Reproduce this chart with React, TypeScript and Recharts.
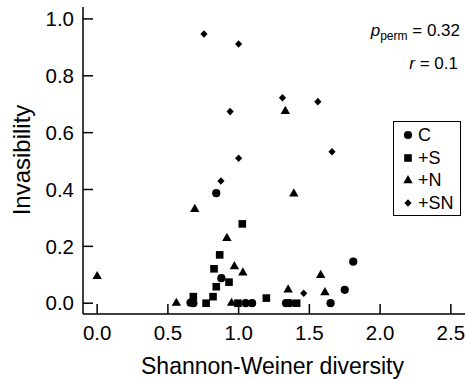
import React from 'react';
import { ScatterChart, Scatter, XAxis, YAxis, Legend, Customized } from 'recharts';

const FONT = '"Liberation Sans", Arial, Helvetica, sans-serif';

// Series values [diversity, invasibility]
const cPts = [[0.842, 0.387], [0.878, 0.088], [0.66, 0.002], [0.68, 0.0], [1.05, 0.0], [1.095, 0.0], [1.335, 0.0], [1.36, 0.0], [1.65, 0.0], [1.75, 0.047], [1.81, 0.146]];
const sPts = [[1.026, 0.279], [0.866, 0.17], [0.826, 0.121], [0.842, 0.058], [0.932, 0.074], [0.819, 0.023], [0.77, 0.0], [0.68, 0.023], [0.995, 0.0], [1.196, 0.018], [1.41, 0.0]];
const nPts = [[0.0, 0.096], [0.56, 0.002], [0.69, 0.332], [0.917, 0.23], [0.97, 0.131], [1.03, 0.109], [0.95, 0.002], [1.33, 0.677], [1.39, 0.387], [1.35, 0.049], [1.58, 0.1], [1.61, 0.039]];
const snPts = [[0.755, 0.947], [1.0, 0.912], [0.94, 0.674], [1.31, 0.723], [1.56, 0.709], [1.66, 0.533], [1.0, 0.51], [0.875, 0.43], [1.46, 0.035]];

const seriesNames = ['C', '+S', '+N', '+SN'];
const seriesShapes = ['circle', 'square', 'triangle', 'diamond'];
const xTicks = [0, 0.5, 1.0, 1.5, 2.0, 2.5];
const yTicks = [0, 0.2, 0.4, 0.6, 0.8, 1.0];
const xLabel = 'Shannon-Weiner diversity';
const yLabel = 'Invasibility';
const pText = '0.32';
const rText = '0.1';

const toData = (pts: number[][]) => pts.map(([x, y]) => ({ x, y }));

const Marker = ({ kind, cx, cy }: { kind: string; cx: number; cy: number }) => {
  if (kind === 'circle') return <circle cx={cx} cy={cy} r={4.1} fill="#000" />;
  if (kind === 'square') return <rect x={cx - 3.8} y={cy - 3.8} width={7.6} height={7.6} fill="#000" />;
  if (kind === 'triangle')
    return <polygon points={`${cx},${cy - 5} ${cx + 4.7},${cy + 3.2} ${cx - 4.7},${cy + 3.2}`} fill="#000" />;
  return <polygon points={`${cx},${cy - 3.8} ${cx + 3.6},${cy} ${cx},${cy + 3.8} ${cx - 3.6},${cy}`} fill="#000" />;
};

const makeShape = (kind: string) => (props: any) => <Marker kind={kind} cx={props.cx} cy={props.cy} />;

const XTick = (props: any) => {
  const { x, y, payload } = props;
  return (
    <g>
      <line x1={x} x2={x} y1={y} y2={y - 10} stroke="#000" strokeWidth={1.5} />
      <text x={x} y={y + 26} textAnchor="middle" fontSize={20.5} fontFamily={FONT} fill="#000">
        {Number(payload.value).toFixed(1)}
      </text>
    </g>
  );
};

const YTick = (props: any) => {
  const { x, y, payload } = props;
  return (
    <g>
      <line x1={x} x2={x + 10} y1={y} y2={y} stroke="#000" strokeWidth={1.5} />
      <text x={x - 9} y={y + 7.3} textAnchor="end" fontSize={20.5} fontFamily={FONT} fill="#000">
        {Number(payload.value).toFixed(1)}
      </text>
    </g>
  );
};

const Annotation = () => (
  <g fontFamily={FONT} fill="#000">
    <text x={460} y={36} textAnchor="end" fontSize={17}>
      <tspan fontStyle="italic">p</tspan>
      <tspan fontSize={12} dy={4}>perm</tspan>
      <tspan dy={-4}> = {pText}</tspan>
    </text>
    <text x={458} y={69} textAnchor="end" fontSize={17}>
      <tspan fontStyle="italic">r</tspan>
      <tspan> = {rText}</tspan>
    </text>
  </g>
);

const LegendBox = () => (
  <div
    style={{
      width: 66,
      height: 93,
      border: '1.5px solid #000',
      background: '#fff',
      fontFamily: FONT,
      fontSize: 18,
      color: '#000',
      boxSizing: 'content-box',
    }}
  >
    {seriesNames.map((name, i) => (
      <div key={name} style={{ position: 'absolute', left: 0, top: 3 + i * 22.5, height: 22, display: 'flex', alignItems: 'center' }}>
        <svg width={24} height={22} style={{ display: 'block' }}>
          <Marker kind={seriesShapes[i]} cx={15} cy={11} />
        </svg>
        <span style={{ marginLeft: 1, lineHeight: '22px' }}>{name}</span>
      </div>
    ))}
  </div>
);

export default function App() {
  const all = [cPts, sPts, nPts, snPts];
  return (
    <div style={{ position: 'absolute', left: 0, top: 0, width: 465, height: 379, background: '#fff' }}>
      <ScatterChart width={465} height={379} margin={{ top: 7, right: 0, bottom: 0, left: 0 }}>
        <XAxis
          type="number"
          dataKey="x"
          domain={[-0.1, 2.6]}
          ticks={xTicks}
          interval={0}
          allowDataOverflow
          tickLine={false}
          tickSize={0}
          tickMargin={0}
          tick={<XTick />}
          axisLine={{ stroke: '#000', strokeWidth: 1.5 }}
          height={65}
          label={{
            content: () => (
              <text x={272.5} y={374} textAnchor="middle" fontSize={23} fontFamily={FONT} fill="#000">
                {xLabel}
              </text>
            ),
          }}
        />
        <YAxis
          type="number"
          dataKey="y"
          domain={[-0.038, 1.042]}
          ticks={yTicks}
          interval={0}
          allowDataOverflow
          tickLine={false}
          tickSize={0}
          tickMargin={0}
          tick={<YTick />}
          axisLine={{ stroke: '#000', strokeWidth: 1.5 }}
          width={83}
          label={{
            content: () => (
              <text
                x={0}
                y={0}
                transform="translate(30,160) rotate(-90)"
                textAnchor="middle"
                fontSize={24}
                fontFamily={FONT}
                fill="#000"
              >
                {yLabel}
              </text>
            ),
          }}
        />
        {all.map((pts, i) => (
          <Scatter
            key={seriesNames[i]}
            name={seriesNames[i]}
            data={toData(pts)}
            fill="#000"
            isAnimationActive={false}
            shape={makeShape(seriesShapes[i])}
          />
        ))}
        <Legend
          layout="vertical"
          align="center"
          verticalAlign="middle"
          content={() => <LegendBox />}
          wrapperStyle={{ position: 'absolute', left: 393, top: 121, width: 69, height: 96 }}
        />
        <Customized component={Annotation} />
      </ScatterChart>
    </div>
  );
}
